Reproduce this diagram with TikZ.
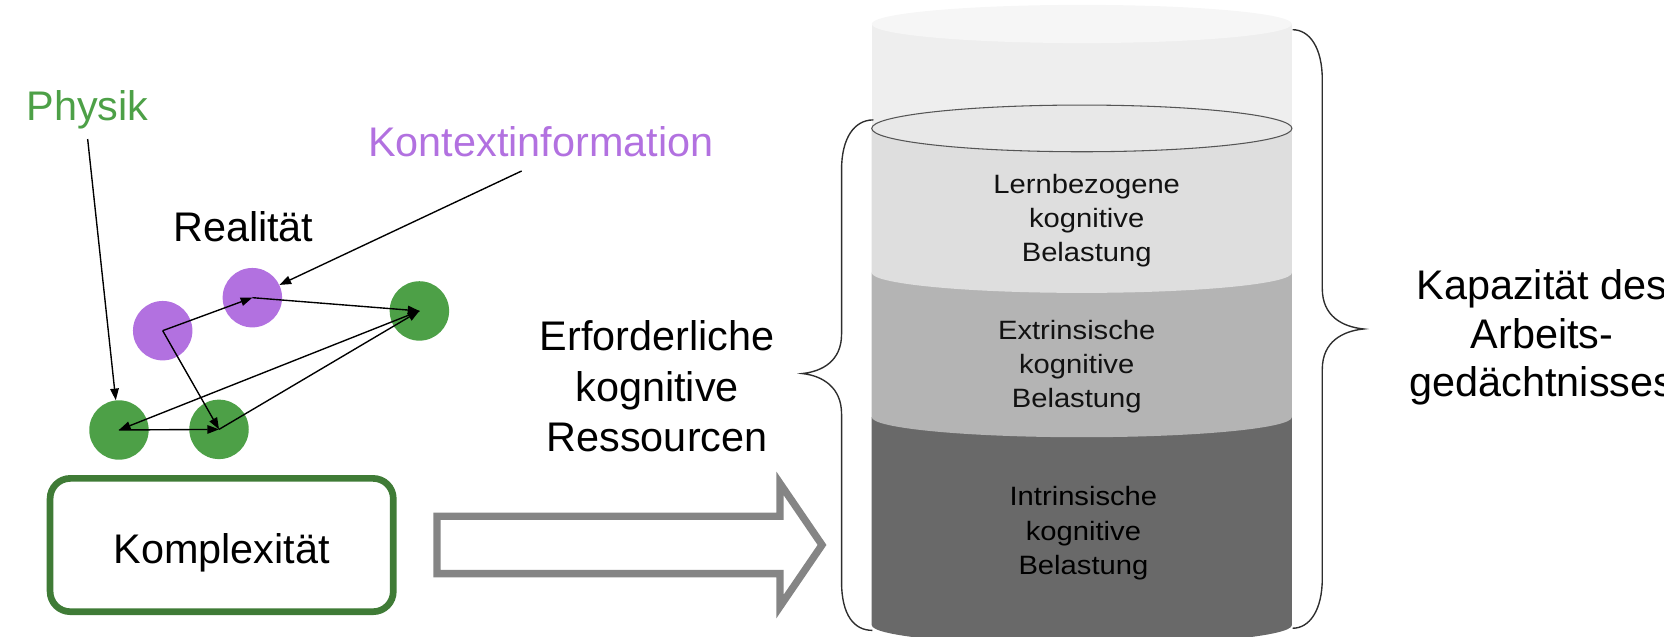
\documentclass[tikz,border=0pt]{standalone}
\usepackage{fontspec}
\setmainfont{Liberation Sans}
\newfontfamily\cylfont[FakeStretch=1.1]{Liberation Sans}
\usetikzlibrary{arrows.meta}

\definecolor{physgreen}{HTML}{4DA047}
\definecolor{ctxpurple}{HTML}{B271E0}
\definecolor{boxgreen}{HTML}{3F7B36}
\definecolor{arrowgray}{HTML}{858585}
\definecolor{emptygray}{HTML}{EEEEEE}
\definecolor{rimgray}{HTML}{F6F6F6}
\definecolor{germanegray}{HTML}{DEDEDE}
\definecolor{surfacegray}{HTML}{E8E8E8}
\definecolor{surfaceline}{HTML}{555555}
\definecolor{extrgray}{HTML}{B4B4B4}
\definecolor{intrgray}{HTML}{696969}
\definecolor{bracegray}{HTML}{2E2E2E}

\begin{document}
\begin{tikzpicture}[x=1pt, y=1pt,
  big/.style={font=\fontsize{39}{47.5}\selectfont, inner sep=0pt, align=center},
  cyltext/.style={font=\cylfont\fontsize{25}{32.2}\selectfont, inner sep=0pt, align=center, text=black!93},
  dot/.style={circle, inner sep=0pt, minimum size=56pt},
  arr/.style={-{Triangle[length=11pt,width=8pt]}, line width=1.3pt, black},
  bracestyle/.style={line width=1.3pt, draw=bracegray},
  komplexbox/.style={draw=boxgreen, line width=6.3pt, rounded corners=19pt,
    minimum width=323.4pt, minimum height=125.6pt, big}]

\clip (0,0) rectangle (1568,600);

% --- reality network ---
\node[big, text=physgreen, anchor=base] (physik) at (82.5,486) {Physik};
\node[big, text=ctxpurple, anchor=base] (kontext) at (509.6,452.4) {Kontextinformation};
\node[big, anchor=base] (realitaet) at (229.3,372.3) {Realität};

\node[dot, fill=ctxpurple] (A) at (153.3,288.4) {};
\node[dot, fill=ctxpurple] (B) at (237.8,319.5) {};
\node[dot, fill=physgreen] (C) at (395.2,307) {};
\node[dot, fill=physgreen] (D) at (112.1,194.8) {};
\node[dot, fill=physgreen] (E) at (206.4,195.4) {};

\coordinate (physfoot) at (82.6,469);
\coordinate (ctxfoot) at (491.6,438.9);
\draw[arr] (physfoot) -- (D);
\draw[arr] (ctxfoot) -- (B);

\draw[arr] (A.center) -- (B.center);
\draw[arr] (B.center) -- (C.center);
\draw[arr] (A.center) -- (E.center);
\draw[arr] (C.center) -- (D.center);
\draw[arr] (D.center) -- (E.center);
\draw[arr] (E.center) -- (C.center);

% --- complexity box and block arrow ---
\node[komplexbox, text height=42.8pt, text depth=8.2pt] (komplex) at (208.9,86.4) {Komplexität};

\draw[arrowgray, line width=6.9pt, fill=white, line join=miter]
  (411.8,113.5) -- (735,113.5) -- (735,144.5) -- (774.6,86.5)
  -- (735,28.5) -- (735,59.5) -- (411.8,59.5) -- cycle;

\node[big] (bedarf) at (619.2,236) {Erforderliche\\kognitive\\Ressourcen};

% --- working memory cylinder ---
\fill[emptygray] (821.4,577.4) rectangle (1217.4,479);
\fill[rimgray] (1019.4,577.4) ellipse [x radius=198, y radius=18];

\fill[intrgray] (821.4,207) -- (821.4,11)
  arc[start angle=180, end angle=360, x radius=198, y radius=19] -- (1217.4,207) -- cycle;
\fill[extrgray] (821.4,343) -- (821.4,207)
  arc[start angle=180, end angle=360, x radius=198, y radius=19] -- (1217.4,343) -- cycle;
\fill[germanegray] (821.4,479) -- (821.4,343)
  arc[start angle=180, end angle=360, x radius=198, y radius=19] -- (1217.4,479) -- cycle;
\filldraw[fill=surfacegray, draw=surfaceline, line width=1pt]
  (1019.4,479) ellipse [x radius=198, y radius=22];

\node[cyltext] (lern) at (1024,392) {Lernbezogene\\kognitive\\Belastung};
\node[cyltext] (extr) at (1014.6,254.6) {Extrinsische\\kognitive\\Belastung};
\node[cyltext, text=black] (intr) at (1020.9,97.6) {Intrinsische\\kognitive\\Belastung};

% --- braces ---
\draw[bracestyle] (823,487) .. controls (805,487) and (793,470) .. (793,440)
  -- (793,285) .. controls (793,260) and (775,250) .. (756,248)
  .. controls (775,246) and (793,235) .. (793,210)
  -- (793,52) .. controls (793,20) and (805,6) .. (822,6);

\draw[bracestyle] (1218,572) .. controls (1234,572) and (1246,555) .. (1246,525)
  -- (1246,328) .. controls (1246,302) and (1265,292) .. (1285,290)
  .. controls (1265,288) and (1246,278) .. (1246,252)
  -- (1246,55) .. controls (1246,25) and (1234,8) .. (1218,8);

\node[big, font=\fontsize{39}{45.5}\selectfont] (kapazitaet) at (1453,281.9)
  {Kapazität des\\Arbeits-\\gedächtnisses};

\end{tikzpicture}
\end{document}
